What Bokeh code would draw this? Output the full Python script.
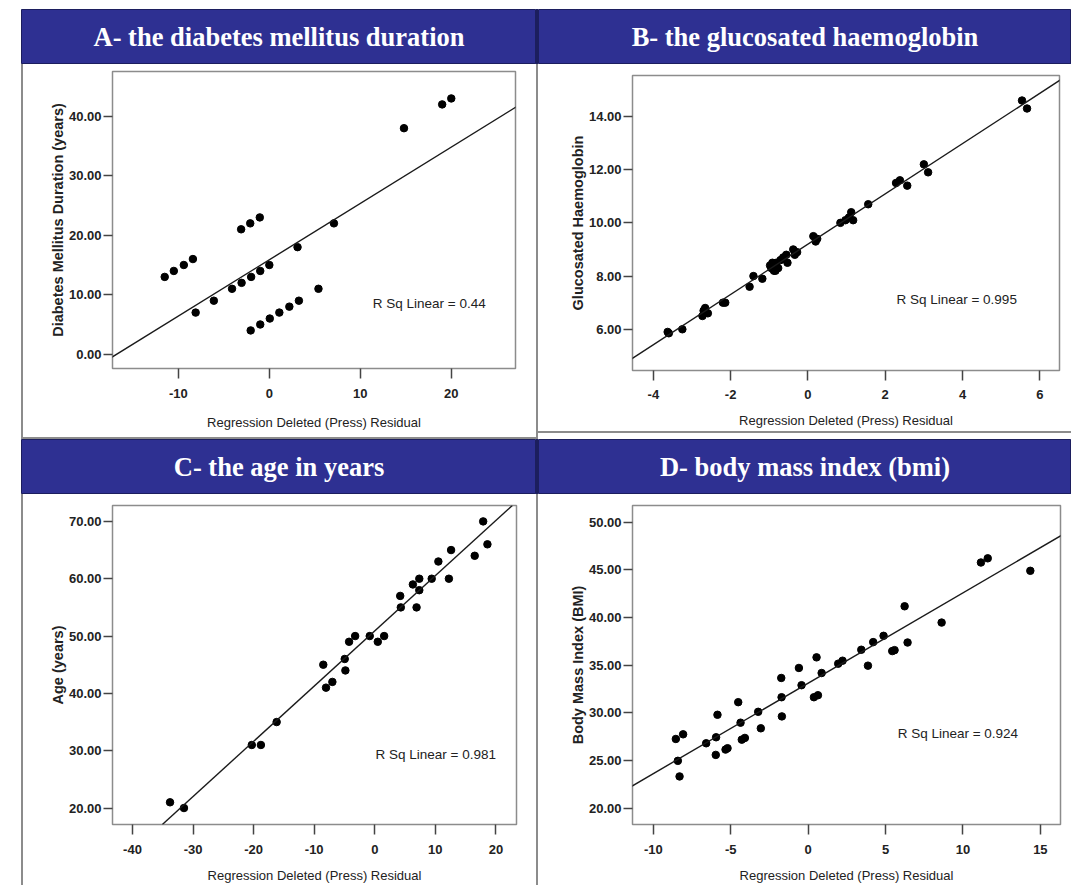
from bokeh.plotting import figure
from bokeh.layouts import row, column
from bokeh.models import Spacer, Slope, Label, FixedTicker, PrintfTickFormatter, Range1d
from bokeh.embed import file_html
from bokeh.resources import INLINE
from bokeh.core.properties import value

# ---------------- data ----------------
titles = ["A- the diabetes mellitus duration", "B- the glucosated haemoglobin",
          "C- the age in years", "D- body mass index (bmi)"]
x_label = "Regression Deleted (Press) Residual"
y_labels = ["Diabetes Mellitus Duration (years)", "Glucosated Haemoglobin",
            "Age (years)", "Body Mass Index (BMI)"]
r2_text = ["R Sq Linear = 0.44", "R Sq Linear = 0.995", "R Sq Linear = 0.981", "R Sq Linear = 0.924"]

a_x = [-11.5, -10.5, -9.4, -8.4, -8.1, -6.1, -4.1, -3.05, -2.0, -1.0, 0.0, 3.1, 7.1,
       -3.1, -2.1, -1.05, -2.05, -1.0, 0.05, 1.1, 2.2, 3.25, 5.4, 14.8, 19.0, 20.0]
a_y = [13, 14, 15, 16, 7, 9, 11, 12, 13, 14, 15, 18, 22,
       21, 22, 23, 4, 5, 6, 7, 8, 9, 11, 38, 42, 43]

b_x = [-3.63, -3.6, -3.25, -2.73, -2.66, -2.7, -2.59, -2.2, -2.14, -1.51, -1.41, -1.18,
       -0.98, -0.95, -0.92, -0.88, -0.84, -0.82, -0.77, -0.71, -0.64, -0.56, -0.53,
       -0.38, -0.34, -0.28, 0.14, 0.2, 0.24, 0.84, 0.97, 1.06, 1.12, 1.17, 1.56,
       2.28, 2.38, 2.57, 3.0, 3.11, 5.54, 5.67]
b_y = [5.9, 5.85, 6.0, 6.5, 6.8, 6.7, 6.6, 7.0, 7.0, 7.6, 8.0, 7.9,
       8.4, 8.3, 8.5, 8.2, 8.2, 8.5, 8.3, 8.6, 8.7, 8.8, 8.5,
       9.0, 8.8, 8.9, 9.5, 9.3, 9.4, 10.0, 10.1, 10.2, 10.4, 10.1, 10.7,
       11.5, 11.6, 11.4, 12.2, 11.9, 14.6, 14.3]

c_x = [-33.8, -31.5, -20.3, -18.8, -16.2, -8.5, -8.05, -7.0, -4.96, -4.85, -4.24, -3.24,
       -0.83, 0.5, 1.55, 4.2, 4.3, 6.29, 6.9, 7.35, 7.35, 9.4, 10.5, 12.24, 12.6, 16.5, 17.9, 18.6]
c_y = [21, 20, 31, 31, 35, 45, 41, 42, 46, 44, 49, 50,
       50, 49, 50, 57, 55, 59, 55, 60, 58, 60, 63, 60, 65, 64, 70, 66]

d_x = [-8.55, -8.08, -8.42, -8.31, -6.59, -5.95, -5.97, -5.86, -5.34, -5.21, -4.52, -4.37,
       -4.29, -4.09, -3.23, -3.06, -1.74, -1.72, -1.7, -0.6, -0.43, 0.37, 0.63, 0.54, 0.87,
       1.94, 2.22, 3.43, 3.86, 4.2, 4.87, 5.43, 5.58, 6.42, 6.23, 8.62, 11.16, 11.6, 14.35]
d_y = [27.25, 27.74, 24.96, 23.32, 26.8, 27.43, 25.58, 29.79, 26.14, 26.28, 31.11, 28.96,
       27.18, 27.36, 30.1, 28.37, 33.65, 31.63, 29.62, 34.7, 32.89, 31.63, 31.84, 35.81, 34.17,
       35.15, 35.46, 36.61, 34.94, 37.41, 38.07, 36.47, 36.57, 37.37, 41.17, 39.46, 45.76, 46.2, 44.89]

# fitted line: slope, intercept
fit_slope = [0.947, 0.945, 0.963, 0.948]
fit_intercept = [15.88, 9.2, 50.9, 33.1]

x_ticks = [[-10, 0, 10, 20], [-4, -2, 0, 2, 4, 6], [-40, -30, -20, -10, 0, 10, 20], [-10, -5, 0, 5, 10, 15]]
y_ticks = [[0, 10, 20, 30, 40], [6, 8, 10, 12, 14], [20, 30, 40, 50, 60, 70], [20, 25, 30, 35, 40, 45, 50]]
x_ranges = [(-17.24, 27.06), (-4.54, 6.51), (-43.3, 23.4), (-11.35, 16.3)]
y_ranges = [(-2.4, 47.53), (4.45, 15.54), (17.13, 72.77), (18.28, 51.74)]
r2_x = [11.37, 2.29, 0.12, 5.78]
r2_y = [8.59, 7.12, 29.4, 27.84]

# ---------------- style ----------------
BLUE = "#2e3092"
NAVY = "#1c1e5e"
GRAY = "#8c8c8c"
SANS = "Liberation Sans"


def header(title, w):
    h = figure(width=w, height=55, x_range=(0, 1), y_range=(0, 1),
               toolbar_location=None, output_backend="svg",
               x_axis_location=None, y_axis_location=None, min_border=0,
               background_fill_color=BLUE, border_fill_color=BLUE,
               outline_line_color=NAVY, outline_line_width=1)
    h.grid.visible = False
    h.text(x=[0.5], y=[0.5], text=[title], text_align="center", text_baseline="middle",
           text_color="white", text_font=value("Liberation Serif"), text_font_style="bold",
           text_font_size="26.5px")
    return h


def panel(i, xs, ys, w, h, bl, br, bt, bb, tick_stand, lab_stand):
    p = figure(width=w, height=h, toolbar_location=None, output_backend="svg",
               x_range=Range1d(*x_ranges[i]), y_range=Range1d(*y_ranges[i]),
               min_border_left=bl, min_border_right=br, min_border_top=bt, min_border_bottom=bb,
               background_fill_color="white", border_fill_color="white",
               outline_line_color=GRAY, outline_line_width=1.5)
    p.grid.visible = False
    p.add_layout(Slope(gradient=fit_slope[i], y_intercept=fit_intercept[i],
                       line_color="#1a1a1a", line_width=1.4))
    p.scatter(xs, ys, size=7.5, color="black")
    p.add_layout(Label(x=r2_x[i], y=r2_y[i], text=r2_text[i], text_align="left",
                       text_baseline="middle", text_font=SANS, text_font_size="13.5px",
                       text_color="#222222"))
    p.xaxis.ticker = FixedTicker(ticks=x_ticks[i])
    p.yaxis.ticker = FixedTicker(ticks=y_ticks[i])
    p.xaxis.formatter = PrintfTickFormatter(format="%d")
    p.yaxis.formatter = PrintfTickFormatter(format="%.2f")
    for ax in (p.xaxis[0], p.yaxis[0]):
        ax.axis_line_color = None
        ax.major_tick_in = 0
        ax.minor_tick_line_color = None
        ax.major_tick_line_color = "#444444"
        ax.major_tick_line_width = 1.5
        ax.major_label_text_font = SANS
        ax.major_label_text_font_style = "bold"
        ax.major_label_text_font_size = "13px"
        ax.major_label_text_color = "#222222"
    p.xaxis.major_tick_out = 10
    p.yaxis.major_tick_out = 9
    p.xaxis.major_label_standoff = tick_stand
    p.yaxis.major_label_standoff = 2
    p.xaxis.axis_label = x_label
    p.xaxis.axis_label_text_font = SANS
    p.xaxis.axis_label_text_font_style = "normal"
    p.xaxis.axis_label_text_font_size = "13px"
    p.xaxis.axis_label_text_color = "#222222"
    p.xaxis.axis_label_standoff = lab_stand
    p.yaxis.axis_label = y_labels[i]
    p.yaxis.axis_label_text_font = SANS
    p.yaxis.axis_label_text_font_style = "bold"
    p.yaxis.axis_label_text_font_size = "14.5px"
    p.yaxis.axis_label_text_color = "#222222"
    p.yaxis.axis_label_standoff = 0
    return p


def sp(w, h, color=None):
    if color is None:
        return Spacer(width=w, height=h)
    return Spacer(width=w, height=h, styles={"background-color": color})


RW = 533   # right column width
BH = 391   # bottom row height
BTH = 367  # height of panel B figure

pA = panel(0, a_x, a_y, 513, 373, 89, 21, 7, 69, 10, 14)
pB = panel(1, b_x, b_y, RW, BTH, 94, RW - 94 - 427, 11, BTH - 11 - 295, 9, 11)
pC = panel(2, c_x, c_y, 513, BH, 89, 20, 9, BH - 9 - 321, 10, 11)
pD = panel(3, d_x, d_y, RW, BH, 94, RW - 94 - 428, 11, BH - 11 - 321, 10, 11)

row1 = row(sp(21, 55), header(titles[0], 515), sp(2, 55, NAVY), header(titles[1], RW))
row2 = row(sp(21, 375), sp(2, 375, GRAY), column(pA, sp(513, 2, GRAY)), sp(2, 375, GRAY),
           column(pB, sp(RW, 2, GRAY), sp(RW, 375 - BTH - 2)))
row3 = row(sp(21, 55), header(titles[2], 515), sp(2, 55, NAVY), header(titles[3], RW))
row4 = row(sp(21, BH), sp(2, BH, GRAY), pC, sp(2, BH, GRAY), pD)

layout = column(sp(1071, 9), row1, row2, row3, row4)

open("out.html", "w").write(file_html(layout, INLINE))
